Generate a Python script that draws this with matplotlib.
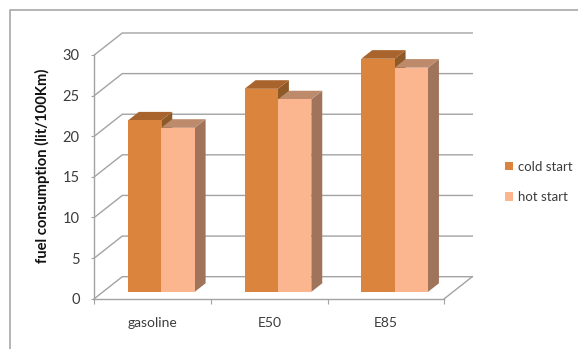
import matplotlib
matplotlib.use("Agg")
import matplotlib.pyplot as plt
from matplotlib.lines import Line2D
from matplotlib.patches import Patch

categories = ["gasoline", "E50", "E85"]
cold_start = [21.1, 25.0, 28.7]
hot_start = [20.2, 23.7, 27.6]
series_names = ["cold start", "hot start"]
y_ticks = [0, 5, 10, 15, 20, 25, 30]

# Oblique projection of the depth axis, in data units per full chart depth
DEPTH_X = 0.24
DEPTH_Y = 2.71
BAR_FRONT = 0.31
BAR_BACK = 0.70
BAR_WIDTH = 0.286

GRID = "#a3a3a3"
TEXT = "#3c3c3c"
COLD = ("#db843d", "#a9642d", "#8e5a27")
HOT = ("#fbb58f", "#bd8a6c", "#a0745a")

plt.rcParams["font.family"] = ["Lato", "DejaVu Sans"]

W, H = 578, 349
fig = plt.figure(figsize=(W / 100, H / 100), dpi=100, facecolor="white")
ax = fig.add_axes([94.3 / W, 1 - 298.7 / H, 350 / W, 243.7 / H])
ax.set_xlim(0, 3)
ax.set_ylim(0, 30)
ax.patch.set_visible(False)


def project(x, v, depth):
    return x + depth * DEPTH_X, v + depth * DEPTH_Y


def face(corners, color, z):
    xs, ys = zip(*[project(*c) for c in corners])
    ax.fill(xs, ys, color=color, lw=0, zorder=z, clip_on=False)


# Back wall, left wall and floor lines
for v in y_ticks:
    x0, y0 = project(0, v, 0)
    x1, y1 = project(0, v, 1)
    x2, y2 = project(3, v, 1)
    ax.plot([x0, x1, x2], [y0, y1, y2], color=GRID, lw=1.0, zorder=1, clip_on=False)
x0, y0 = project(3, 0, 0)
x1, y1 = project(3, 0, 1)
ax.plot([x0, x1], [y0, y1], color=GRID, lw=1.0, zorder=1, clip_on=False)


def bar(left, value, colors, z):
    right = left + BAR_WIDTH
    face([(right, 0, BAR_FRONT), (right, 0, BAR_BACK), (right, value, BAR_BACK), (right, value, BAR_FRONT)], colors[2], z)
    face([(left, value, BAR_FRONT), (right, value, BAR_FRONT), (right, value, BAR_BACK), (left, value, BAR_BACK)], colors[1], z)
    face([(left, 0, BAR_FRONT), (right, 0, BAR_FRONT), (right, value, BAR_FRONT), (left, value, BAR_FRONT)], colors[0], z + 0.5)


for i in range(len(categories)):
    bar(i + 0.5 - BAR_WIDTH, cold_start[i], COLD, 3)
    bar(i + 0.5, hot_start[i], HOT, 4)

# Axes and ticks
for side in ("top", "right"):
    ax.spines[side].set_visible(False)
for side in ("left", "bottom"):
    ax.spines[side].set_color(GRID)
    ax.spines[side].set_linewidth(1.0)
    ax.spines[side].set_zorder(2)
ax.set_yticks(y_ticks)
ax.tick_params(axis="y", length=2.5, width=0.8, color=GRID, pad=8, labelsize=10.5, labelcolor=TEXT)
ax.set_xticks(range(len(categories) + 1))
ax.set_xticklabels([])
ax.tick_params(axis="x", which="major", length=3.5, width=0.8, color=GRID)
ax.set_xticks([i + 0.5 for i in range(len(categories))], minor=True)
ax.set_xticklabels(categories, minor=True)
ax.tick_params(axis="x", which="minor", length=0, pad=13, labelsize=10, labelcolor=TEXT)

ax.set_ylabel("fuel consumption (lit/100Km)", fontsize=10.6, fontweight="bold", color="#111111")
ax.yaxis.set_label_coords(-0.127, 0.545)

handles = [Patch(facecolor=COLD[0], label=series_names[0]), Patch(facecolor=HOT[0], label=series_names[1])]
fig.legend(handles=handles, loc="center left", bbox_to_anchor=(505 / W, 1 - 182 / H), frameon=False,
           fontsize=9.5, labelcolor=TEXT, handlelength=0.62, handleheight=0.62, handletextpad=0.35,
           labelspacing=1.4, borderpad=0, borderaxespad=0)

# Chart area outline, open towards the right and bottom edges
fig.add_artist(Line2D([10.3 / W, 10.3 / W, 1], [0, 1 - 10.3 / H, 1 - 10.3 / H], color="#a0a0a0", lw=1.1,
                      transform=fig.transFigure))

fig.savefig("out.png", dpi=100, facecolor="white")
